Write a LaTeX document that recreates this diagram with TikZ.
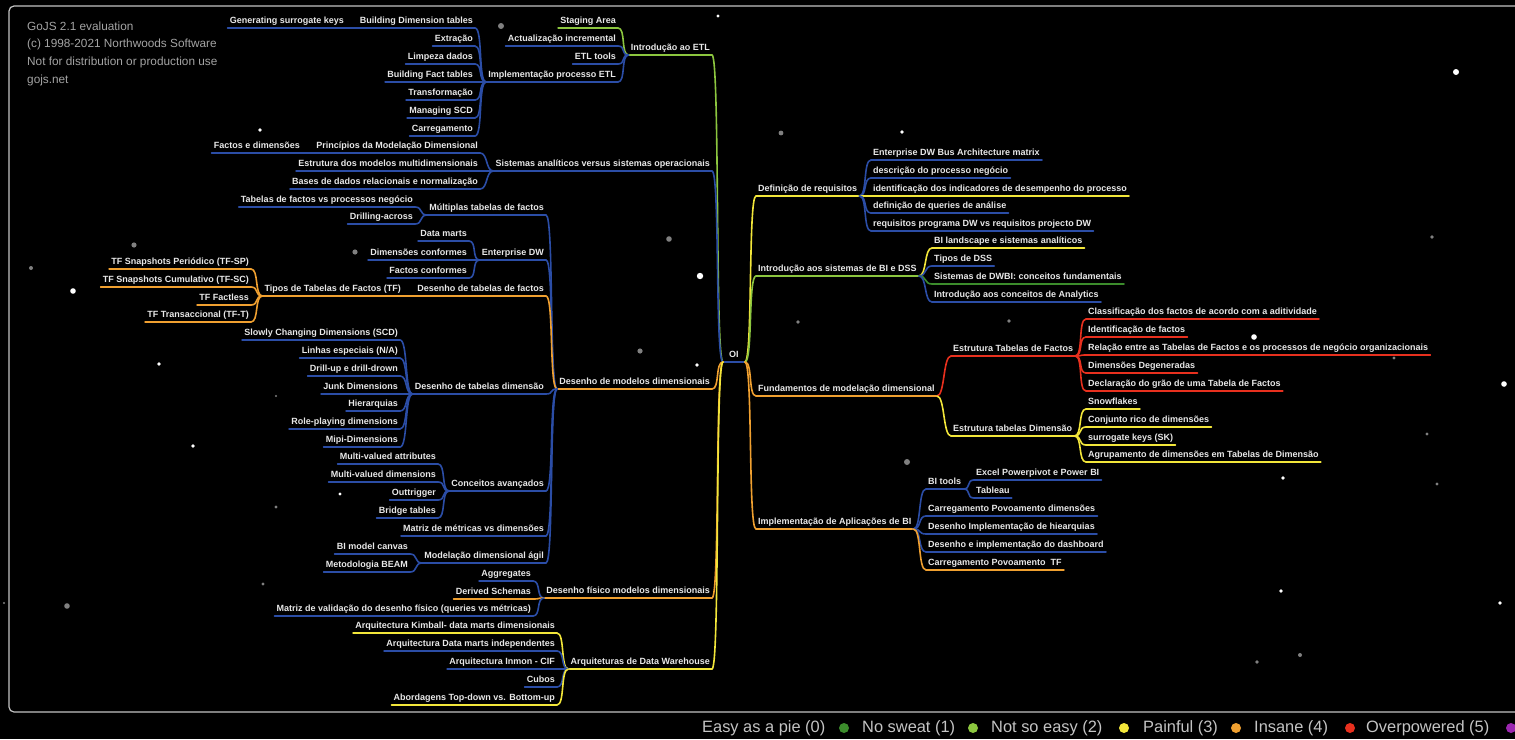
\documentclass[tikz,border=0pt]{standalone}
\usepackage{fontspec}
\setmainfont{Liberation Sans}
\definecolor{cB}{HTML}{2B4DA6}
\definecolor{cLG}{HTML}{8CC63F}
\definecolor{cDG}{HTML}{3C8C2C}
\definecolor{cY}{HTML}{F2E63A}
\definecolor{cO}{HTML}{F0A030}
\definecolor{cR}{HTML}{E8301E}
\definecolor{cP}{HTML}{9C27B0}
\definecolor{fg}{HTML}{E8E8E8}
\definecolor{wm}{HTML}{A4A4A4}
\definecolor{frm}{HTML}{C4C4C4}
\begin{document}
\begin{tikzpicture}[
  x=1pt, y=-1pt,
  line cap=round,
  line join=round,
  txt/.style={text=fg, font=\bfseries\fontsize{9}{10}\selectfont,
    inner xsep=2pt, inner ysep=2.5pt, text height=7pt, text depth=2pt},
  ul/.style={line width=1.6pt},
  lnk/.style={line width=1.6pt},
  lt/.style={txt, anchor=south east,
    append after command={(\tikzlastnode.south west) edge[ul,#1] (\tikzlastnode.south east)}},
  rt/.style={txt, anchor=south west,
    append after command={(\tikzlastnode.south west) edge[ul,#1] (\tikzlastnode.south east)}},
  goleft/.style={to path={.. controls +(-8,0) and +(8,0) .. (\tikztotarget)}},
  goright/.style={to path={.. controls +(8,0) and +(-8,0) .. (\tikztotarget)}},
  legend/.style={text=frm, font=\fontsize{16.4}{18}\selectfont, anchor=west, inner sep=0pt},
  wmark/.style={anchor=west, inner sep=0pt, text=wm, font=\fontsize{11.8}{13}\selectfont}
]
  % Фон и рамка
  \useasboundingbox (0,0) rectangle (1515,739);
  \fill[black] (0,0) rectangle (1515,739);
  \draw[frm, line width=1.2pt, rounded corners=5pt] (1530,6) -- (9,6) -- (9,712) -- (1530,712);

  % Звёзды
  \fill[white] (1456,72) circle (3) (700,276) circle (3.2) (1254,337) circle (2.8)
    (1504,384) circle (2.8) (73,291) circle (2.8) (260,130) circle (1.8)
    (159,364) circle (1.8) (193,446) circle (1.8) (1283,478) circle (1.8)
    (697,365) circle (1.8) (902,132) circle (1.8) (718,16) circle (1.6)
    (340,494) circle (1.6) (1500,603) circle (1.8) (1281,591) circle (1.8);
  \fill[gray] (501,26) circle (3) (669,239) circle (2.8) (134,245) circle (2.6)
    (355,252) circle (2.6) (640,351) circle (2.6) (907,462) circle (3)
    (67,606) circle (2.8) (1300,655) circle (2) (31,268) circle (2)
    (276,396) circle (1.2) (276,507) circle (1.6) (263,584) circle (1.6)
    (798,322) circle (1.8) (1009,321) circle (1.8) (781,133) circle (2.4)
    (1427,434) circle (1.6) (1394,358) circle (1.6) (1432,237) circle (1.8)
    (1257,662) circle (1.8) (1437,484) circle (1.6) (4,603) circle (1.2);

  % Водяной знак
  \node[wmark] (wm1) at (27,26) {GoJS 2.1 evaluation};
  \node[wmark] (wm2) at (27,44) {(c) 1998-2021 Northwoods Software};
  \node[wmark] (wm3) at (27,62) {Not for distribution or production use};
  \node[wmark] (wm4) at (27,80) {gojs.net};

  % Корень
  \node[rt=cB, inner xsep=6pt] (oi) at (723,362) {OI};

  % Левая ветвь, первый уровень
  \node[lt=cLG] (etl) at (712,55) {Introdução ao ETL};
  \node[lt=cB] (sis) at (712,171) {Sistemas analíticos versus sistemas operacionais};
  \node[lt=cO] (dmd) at (712,389) {Desenho de modelos dimensionais};
  \node[lt=cO] (dfm) at (712,598) {Desenho físico modelos dimensionais};
  \node[lt=cY] (arq) at (712,669) {Arquiteturas de Data Warehouse};
  \draw[lnk,cLG] (oi.south west) to[goleft] (etl.south east);
  \draw[lnk,cB] (oi.south west) to[goleft] (sis.south east);
  \draw[lnk,cO] (oi.south west) to[goleft] (dmd.south east);
  \draw[lnk,cO] (oi.south west) to[goleft] (dfm.south east);
  \draw[lnk,cY] (oi.south west) to[goleft] (arq.south east);

  % Introdução ao ETL
  \node[lt=cLG] (stg) at (618,28) {Staging Area};
  \node[lt=cB] (act) at (618,46) {Actualização incremental};
  \node[lt=cB] (etlt) at (618,64) {ETL tools};
  \node[lt=cB] (ipe) at (618,82) {Implementação processo ETL};
  \draw[lnk,cLG] (etl.south west) to[goleft] (stg.south east);
  \draw[lnk,cB] (etl.south west) to[goleft] (act.south east);
  \draw[lnk,cB] (etl.south west) to[goleft] (etlt.south east);
  \draw[lnk,cB] (etl.south west) to[goleft] (ipe.south east);

  \node[lt=cB] (bdt) at (475,28) {Building Dimension tables};
  \node[lt=cB] (gsk) at (346,28) {Generating surrogate keys};
  \node[lt=cB] (ext) at (475,46) {Extração};
  \node[lt=cB] (lim) at (475,64) {Limpeza dados};
  \node[lt=cB] (bft) at (475,82) {Building Fact tables};
  \node[lt=cB] (trf) at (475,100) {Transformação};
  \node[lt=cB] (msc) at (475,118) {Managing SCD};
  \node[lt=cB] (car) at (475,136) {Carregamento};
  \draw[lnk,cB] (bdt.south west) to[goleft] (gsk.south east);
  \draw[lnk,cB] (ipe.south west) to[goleft] (bdt.south east);
  \draw[lnk,cB] (ipe.south west) to[goleft] (ext.south east);
  \draw[lnk,cB] (ipe.south west) to[goleft] (lim.south east);
  \draw[lnk,cB] (ipe.south west) to[goleft] (bft.south east);
  \draw[lnk,cB] (ipe.south west) to[goleft] (trf.south east);
  \draw[lnk,cB] (ipe.south west) to[goleft] (msc.south east);
  \draw[lnk,cB] (ipe.south west) to[goleft] (car.south east);

  % Sistemas analíticos
  \node[lt=cB] (pmd) at (480,153) {Princípios da Modelação Dimensional};
  \node[lt=cB] (fed) at (302,153) {Factos e dimensões};
  \node[lt=cB] (edm) at (480,171) {Estrutura dos modelos multidimensionais};
  \node[lt=cB] (bdr) at (480,189) {Bases de dados relacionais e normalização};
  \draw[lnk,cB] (pmd.south west) to[goleft] (fed.south east);
  \draw[lnk,cB] (sis.south west) to[goleft] (pmd.south east);
  \draw[lnk,cB] (sis.south west) to[goleft] (edm.south east);
  \draw[lnk,cB] (sis.south west) to[goleft] (bdr.south east);

  % Desenho de modelos dimensionais
  \node[lt=cB] (mtf) at (546,215) {Múltiplas tabelas de factos};
  \node[lt=cB] (edw) at (546,260) {Enterprise DW};
  \node[lt=cO] (dtf) at (546,296) {Desenho de tabelas de factos};
  \node[lt=cB] (dtd) at (546,394) {Desenho de tabelas dimensão};
  \node[lt=cB] (cav) at (546,491) {Conceitos avançados};
  \node[lt=cB] (mmd) at (546,536) {Matriz de métricas vs dimensões};
  \node[lt=cB] (mda) at (546,563) {Modelação dimensional ágil};
  \draw[lnk,cB] (dmd.south west) to[goleft] (mtf.south east);
  \draw[lnk,cB] (dmd.south west) to[goleft] (edw.south east);
  \draw[lnk,cO] (dmd.south west) to[goleft] (dtf.south east);
  \draw[lnk,cB] (dmd.south west) to[goleft] (dtd.south east);
  \draw[lnk,cB] (dmd.south west) to[goleft] (cav.south east);
  \draw[lnk,cB] (dmd.south west) to[goleft] (mmd.south east);
  \draw[lnk,cB] (dmd.south west) to[goleft] (mda.south east);

  \node[lt=cB] (tfp) at (415,207) {Tabelas de factos vs processos negócio};
  \node[lt=cB] (dra) at (415,224) {Drilling-across};
  \draw[lnk,cB] (mtf.south west) to[goleft] (tfp.south east);
  \draw[lnk,cB] (mtf.south west) to[goleft] (dra.south east);

  \node[lt=cB] (dmt) at (469,241) {Data marts};
  \node[lt=cB] (dco) at (469,260) {Dimensões conformes};
  \node[lt=cB] (fco) at (469,278) {Factos conformes};
  \draw[lnk,cB] (edw.south west) to[goleft] (dmt.south east);
  \draw[lnk,cB] (edw.south west) to[goleft] (dco.south east);
  \draw[lnk,cB] (edw.south west) to[goleft] (fco.south east);

  \node[lt=cO] (ttf) at (403,296) {Tipos de Tabelas de Factos (TF)};
  \node[lt=cO] (tsp) at (251,269) {TF Snapshots Periódico (TF-SP)};
  \node[lt=cO] (tsc) at (251,287) {TF Snapshots Cumulativo (TF-SC)};
  \node[lt=cO] (tfl) at (251,305) {TF Factless};
  \node[lt=cO] (ttr) at (251,322) {TF Transaccional (TF-T)};
  \draw[lnk,cO] (dtf.south west) to[goleft] (ttf.south east);
  \draw[lnk,cO] (ttf.south west) to[goleft] (tsp.south east);
  \draw[lnk,cO] (ttf.south west) to[goleft] (tsc.south east);
  \draw[lnk,cO] (ttf.south west) to[goleft] (tfl.south east);
  \draw[lnk,cO] (ttf.south west) to[goleft] (ttr.south east);

  \node[lt=cB] (scd) at (400,340) {Slowly Changing Dimensions (SCD)};
  \node[lt=cB] (lin) at (400,358) {Linhas especiais (N/A)};
  \node[lt=cB] (dri) at (400,376) {Drill-up e drill-drown};
  \node[lt=cB] (jun) at (400,394) {Junk Dimensions};
  \node[lt=cB] (hie) at (400,411) {Hierarquias};
  \node[lt=cB] (rol) at (400,429) {Role-playing dimensions};
  \node[lt=cB] (mip) at (400,447) {Mipi-Dimensions};
  \draw[lnk,cB] (dtd.south west) to[goleft] (scd.south east);
  \draw[lnk,cB] (dtd.south west) to[goleft] (lin.south east);
  \draw[lnk,cB] (dtd.south west) to[goleft] (dri.south east);
  \draw[lnk,cB] (dtd.south west) to[goleft] (jun.south east);
  \draw[lnk,cB] (dtd.south west) to[goleft] (hie.south east);
  \draw[lnk,cB] (dtd.south west) to[goleft] (rol.south east);
  \draw[lnk,cB] (dtd.south west) to[goleft] (mip.south east);

  \node[lt=cB] (mva) at (438,464) {Multi-valued attributes};
  \node[lt=cB] (mvd) at (438,482) {Multi-valued dimensions};
  \node[lt=cB] (otr) at (438,500) {Outtrigger};
  \node[lt=cB] (bri) at (438,518) {Bridge tables};
  \draw[lnk,cB] (cav.south west) to[goleft] (mva.south east);
  \draw[lnk,cB] (cav.south west) to[goleft] (mvd.south east);
  \draw[lnk,cB] (cav.south west) to[goleft] (otr.south east);
  \draw[lnk,cB] (cav.south west) to[goleft] (bri.south east);

  \node[lt=cB] (bmc) at (410,554) {BI model canvas};
  \node[lt=cB] (mbe) at (410,572) {Metodologia BEAM};
  \draw[lnk,cB] (mda.south west) to[goleft] (bmc.south east);
  \draw[lnk,cB] (mda.south west) to[goleft] (mbe.south east);

  % Desenho físico
  \node[lt=cB] (agg) at (533,581) {Aggregates};
  \node[lt=cO] (der) at (533,599) {Derived Schemas};
  \node[lt=cB] (mvf) at (533,616) {Matriz de validação do desenho físico (queries vs métricas)};
  \draw[lnk,cB] (dfm.south west) to[goleft] (agg.south east);
  \draw[lnk,cO] (dfm.south west) to[goleft] (der.south east);
  \draw[lnk,cB] (dfm.south west) to[goleft] (mvf.south east);

  % Arquiteturas
  \node[lt=cY] (kim) at (557,633) {Arquitectura Kimball- data marts dimensionais};
  \node[lt=cB] (dmi) at (557,651) {Arquitectura Data marts independentes};
  \node[lt=cB] (inm) at (557,669) {Arquitectura Inmon - CIF};
  \node[lt=cB] (cub) at (557,687) {Cubos};
  \node[lt=cY] (abo) at (557,705) {Abordagens Top-down vs. Bottom-up};
  \draw[lnk,cY] (arq.south west) to[goleft] (kim.south east);
  \draw[lnk,cB] (arq.south west) to[goleft] (dmi.south east);
  \draw[lnk,cB] (arq.south west) to[goleft] (inm.south east);
  \draw[lnk,cB] (arq.south west) to[goleft] (cub.south east);
  \draw[lnk,cY] (arq.south west) to[goleft] (abo.south east);

  % Правая ветвь, первый уровень
  \node[rt=cY] (req) at (756,196) {Definição de requisitos};
  \node[rt=cLG] (isb) at (756,276) {Introdução aos sistemas de BI e DSS};
  \node[rt=cO] (fmd) at (756,396) {Fundamentos de modelação dimensional};
  \node[rt=cO] (iab) at (756,529) {Implementação de Aplicações de BI};
  \draw[lnk,cY] (oi.south east) to[goright] (req.south west);
  \draw[lnk,cLG] (oi.south east) to[goright] (isb.south west);
  \draw[lnk,cO] (oi.south east) to[goright] (fmd.south west);
  \draw[lnk,cO] (oi.south east) to[goright] (iab.south west);

  % Definição de requisitos
  \node[rt=cB] (bus) at (871,160) {Enterprise DW Bus Architecture matrix};
  \node[rt=cB] (dsc) at (871,178) {descrição do processo negócio};
  \node[rt=cY] (ind) at (871,196) {identificação dos indicadores de desempenho do processo};
  \node[rt=cB] (dqa) at (871,213) {definição de queries de análise};
  \node[rt=cB] (rpd) at (871,231) {requisitos programa DW vs requisitos projecto DW};
  \draw[lnk,cB] (req.south east) to[goright] (bus.south west);
  \draw[lnk,cB] (req.south east) to[goright] (dsc.south west);
  \draw[lnk,cY] (req.south east) to[goright] (ind.south west);
  \draw[lnk,cB] (req.south east) to[goright] (dqa.south west);
  \draw[lnk,cB] (req.south east) to[goright] (rpd.south west);

  % Introdução aos sistemas de BI
  \node[rt=cY] (bil) at (932,248) {BI landscape e sistemas analíticos};
  \node[rt=cB] (tds) at (932,266) {Tipos de DSS};
  \node[rt=cDG] (dwb) at (932,284) {Sistemas de DWBI: conceitos fundamentais};
  \node[rt=cB] (ica) at (932,302) {Introdução aos conceitos de Analytics};
  \draw[lnk,cY] (isb.south east) to[goright] (bil.south west);
  \draw[lnk,cB] (isb.south east) to[goright] (tds.south west);
  \draw[lnk,cDG] (isb.south east) to[goright] (dwb.south west);
  \draw[lnk,cB] (isb.south east) to[goright] (ica.south west);

  % Fundamentos
  \node[rt=cR] (etf) at (951,356) {Estrutura Tabelas de Factos};
  \node[rt=cY] (etd) at (951,436) {Estrutura tabelas Dimensão};
  \draw[lnk,cR] (fmd.south east) to[goright] (etf.south west);
  \draw[lnk,cY] (fmd.south east) to[goright] (etd.south west);

  \node[rt=cR] (cfa) at (1086,319) {Classificação dos factos de acordo com a aditividade};
  \node[rt=cR] (idf) at (1086,337) {Identificação de factos};
  \node[rt=cR] (rel) at (1086,355) {Relação entre as Tabelas de Factos e os processos de negócio organizacionais};
  \node[rt=cR] (ddg) at (1086,373) {Dimensões Degeneradas};
  \node[rt=cR] (dgr) at (1086,391) {Declaração do grão de uma Tabela de Factos};
  \draw[lnk,cR] (etf.south east) to[goright] (cfa.south west);
  \draw[lnk,cR] (etf.south east) to[goright] (idf.south west);
  \draw[lnk,cR] (etf.south east) to[goright] (rel.south west);
  \draw[lnk,cR] (etf.south east) to[goright] (ddg.south west);
  \draw[lnk,cR] (etf.south east) to[goright] (dgr.south west);

  \node[rt=cY] (snw) at (1086,409) {Snowflakes};
  \node[rt=cY] (crd) at (1086,427) {Conjunto rico de dimensões};
  \node[rt=cY] (sgk) at (1086,445) {surrogate keys (SK)};
  \node[rt=cY] (agr) at (1086,462) {Agrupamento de dimensões em Tabelas de Dimensão};
  \draw[lnk,cY] (etd.south east) to[goright] (snw.south west);
  \draw[lnk,cY] (etd.south east) to[goright] (crd.south west);
  \draw[lnk,cY] (etd.south east) to[goright] (sgk.south west);
  \draw[lnk,cY] (etd.south east) to[goright] (agr.south west);

  % Implementação de Aplicações
  \node[rt=cB] (bit) at (926,489) {BI tools};
  \node[rt=cB] (exc) at (974,480) {Excel Powerpivot e Power BI};
  \node[rt=cB] (tab) at (974,498) {Tableau};
  \node[rt=cB] (cpd) at (926,516) {Carregamento Povoamento dimensões};
  \node[rt=cB] (dih) at (926,534) {Desenho Implementação de hiearquias};
  \node[rt=cB] (did) at (926,552) {Desenho e implementação do dashboard};
  \node[rt=cO] (cpt) at (926,570) {Carregamento Povoamento\ \ TF};
  \draw[lnk,cB] (bit.south east) to[goright] (exc.south west);
  \draw[lnk,cB] (bit.south east) to[goright] (tab.south west);
  \draw[lnk,cB] (iab.south east) to[goright] (bit.south west);
  \draw[lnk,cB] (iab.south east) to[goright] (cpd.south west);
  \draw[lnk,cB] (iab.south east) to[goright] (dih.south west);
  \draw[lnk,cB] (iab.south east) to[goright] (did.south west);
  \draw[lnk,cO] (iab.south east) to[goright] (cpt.south west);

  % Легенда
  \node[legend] (l0) at (702,728) {Easy as a pie (0)};
  \node[legend] (l1) at (862,728) {No sweat (1)};
  \node[legend] (l2) at (991,728) {Not so easy (2)};
  \node[legend] (l3) at (1143,728) {Painful (3)};
  \node[legend] (l4) at (1254,728) {Insane (4)};
  \node[legend] (l5) at (1366,728) {Overpowered (5)};
  \fill[cDG] (844,728) circle (5);
  \fill[cLG] (973,728) circle (5);
  \fill[cY] (1124,728) circle (5);
  \fill[cO] (1236,728) circle (5);
  \fill[cR] (1350,728) circle (5);
  \fill[cP] (1511,728) circle (5);
\end{tikzpicture}
\end{document}
